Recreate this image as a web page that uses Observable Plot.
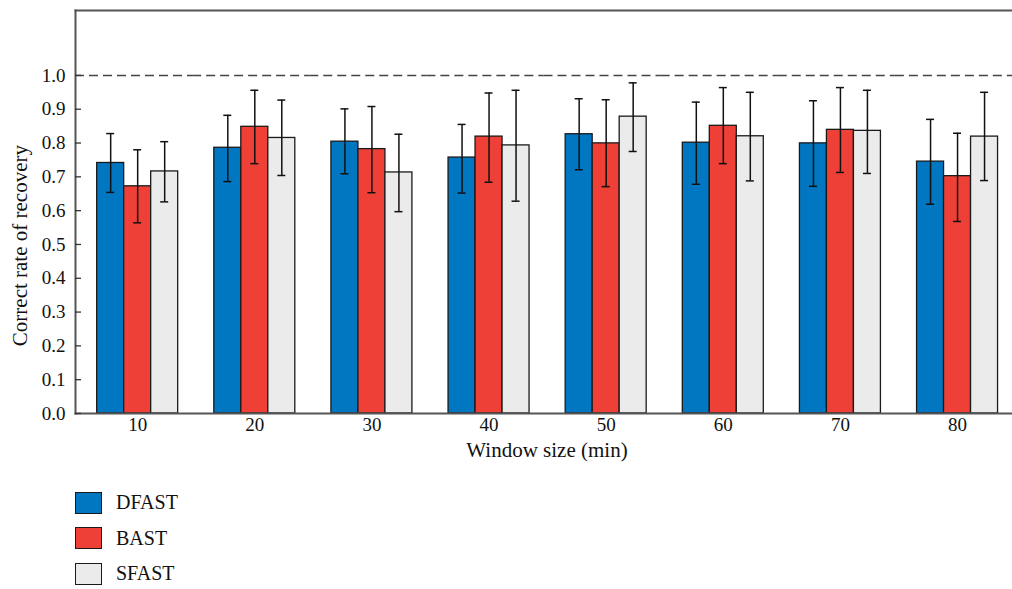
<!DOCTYPE html>
<html><head><meta charset="utf-8">
<script src="https://cdn.jsdelivr.net/npm/d3@7"></script>
<script src="https://cdn.jsdelivr.net/npm/@observablehq/plot@0.6"></script>
<style>
body{margin:0;background:#fff;font-family:"Liberation Serif",serif;color:#111;}
#legend{margin-left:75px;margin-top:15px;}
.item{display:flex;align-items:center;height:35.5px;font-size:20px;}
.sw{width:27px;height:22px;border:1.5px solid #1a1a1a;margin-right:14px;box-sizing:border-box;}
</style></head><body>
<div id="chart"></div><div id="legend"></div>
<script>
const windows = [10, 20, 30, 40, 50, 60, 70, 80];
const series = ["DFAST", "BAST", "SFAST"];
const colors = ["#0077c0", "#ee4037", "#ebebeb"];
const yTicks = [0, 0.1, 0.2, 0.3, 0.4, 0.5, 0.6, 0.7, 0.8, 0.9, 1.0];

const dfast   = [0.741, 0.786, 0.804, 0.757, 0.826, 0.801, 0.799, 0.745];
const dfastLo = [0.654, 0.686, 0.709, 0.652, 0.721, 0.678, 0.672, 0.619];
const dfastHi = [0.828, 0.882, 0.901, 0.855, 0.931, 0.921, 0.925, 0.870];

const bast   = [0.672, 0.848, 0.782, 0.819, 0.799, 0.851, 0.839, 0.702];
const bastLo = [0.564, 0.739, 0.653, 0.684, 0.671, 0.739, 0.713, 0.568];
const bastHi = [0.780, 0.956, 0.908, 0.948, 0.928, 0.964, 0.964, 0.829];

const sfast   = [0.716, 0.815, 0.713, 0.793, 0.878, 0.820, 0.836, 0.819];
const sfastLo = [0.626, 0.704, 0.597, 0.628, 0.775, 0.688, 0.710, 0.689];
const sfastHi = [0.804, 0.927, 0.826, 0.956, 0.978, 0.950, 0.956, 0.950];

const refLine = [1.0];
const xTitle = ["Window size (min)"];
const yTitle = ["Correct rate of recovery"];

const table = [[dfast, dfastLo, dfastHi], [bast, bastLo, bastHi], [sfast, sfastLo, sfastHi]];
const rows = [];
windows.forEach((w, i) => series.forEach((s, j) => {
  rows.push({window: w, series: s, value: table[j][0][i], lo: table[j][1][i], hi: table[j][2][i]});
}));
const middle = rows.filter(d => d.series === series[1]);

const FONT = "'Liberation Serif', 'Times New Roman', serif";

const chart = Plot.plot({
  width: 1012, height: 470,
  marginLeft: 75, marginRight: 0, marginTop: 10, marginBottom: 57,
  style: "font-family: 'Liberation Serif', serif; font-size: 19px; color: #111; background: #fff; overflow: visible;",
  fx: {domain: windows, padding: 0, round: false, axis: null},
  x: {domain: series, paddingInner: 0, paddingOuter: 0.669, align: 0.6, round: false, axis: null},
  y: {domain: [0, 1.192], axis: null},
  color: {domain: series, range: colors},
  marks: [
    Plot.ruleY(refLine, {stroke: "#444", strokeWidth: 1.5, strokeDasharray: "9,5"}),
    Plot.barY(rows, {fx: "window", x: "series", y: "value", fill: "series", stroke: "#1a1a1a", strokeWidth: 1.3}),
    Plot.ruleX(rows, {fx: "window", x: "series", y1: "lo", y2: "hi", stroke: "#111", strokeWidth: 1.5}),
    Plot.tickY(rows, {fx: "window", x: "series", y: "lo", stroke: "#111", strokeWidth: 1.5, insetLeft: 9.5, insetRight: 9.5}),
    Plot.tickY(rows, {fx: "window", x: "series", y: "hi", stroke: "#111", strokeWidth: 1.5, insetLeft: 9.5, insetRight: 9.5}),
    Plot.text(middle, {fx: "window", x: "series", text: "window", frameAnchor: "bottom", dy: 17, fill: "#111", fontSize: 19, fontFamily: FONT}),
    Plot.frame({facet: "super", anchor: "top", stroke: "#555", strokeWidth: 2}),
    Plot.frame({facet: "super", anchor: "left", stroke: "#555", strokeWidth: 2}),
    Plot.frame({facet: "super", anchor: "bottom", stroke: "#555", strokeWidth: 2}),
    Plot.axisY(yTicks, {tickFormat: ".1f", tickSize: -6, tickPadding: 16, label: null, stroke: "#333", strokeWidth: 1.3, fill: "#111", fontSize: 19, fontFamily: FONT}),
    Plot.text(xTitle, {facet: "super", frameAnchor: "bottom", dy: 43.5, dx: 3, fontSize: 21, fill: "#111", fontFamily: FONT}),
    Plot.text(yTitle, {facet: "super", frameAnchor: "left", textAnchor: "middle", dx: -55, dy: 33.6, rotate: -90, fontSize: 21, fill: "#111", fontFamily: FONT})
  ]
});
document.getElementById("chart").appendChild(chart);

const legend = document.getElementById("legend");
series.forEach((s, j) => {
  const it = document.createElement("div");
  it.className = "item";
  const sw = document.createElement("div");
  sw.className = "sw";
  sw.style.background = colors[j];
  const lb = document.createElement("span");
  lb.textContent = s;
  it.appendChild(sw); it.appendChild(lb);
  legend.appendChild(it);
});
</script>
</body></html>
